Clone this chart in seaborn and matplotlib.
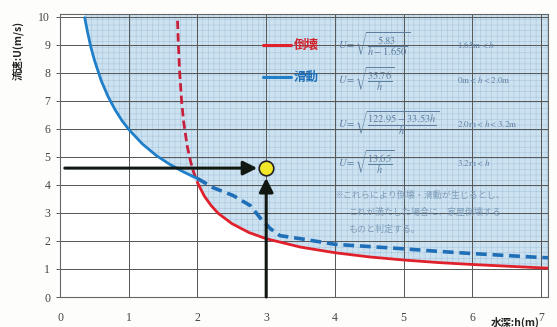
import matplotlib
matplotlib.use('Agg')
import matplotlib.pyplot as plt
import seaborn as sns
import pandas as pd

# values (water depth h [m] -> velocity U [m/s])
blue_solid_h = [0.36, 0.40, 0.45, 0.50, 0.60, 0.70, 0.80, 0.90, 1.00, 1.20, 1.40, 1.60, 1.80, 2.00]
blue_solid_u = [9.97, 9.46, 8.91, 8.46, 7.72, 7.15, 6.69, 6.30, 5.98, 5.46, 5.05, 4.73, 4.46, 4.23]

blue_dash_h = [2.00, 2.23, 2.52, 2.77, 2.91, 3.06, 3.20, 3.50, 4.00, 4.50, 5.00, 5.50, 6.00, 6.50, 7.00, 7.10]
blue_dash_u = [4.23, 3.90, 3.62, 3.26, 2.83, 2.44, 2.19, 2.08, 1.88, 1.80, 1.72, 1.63, 1.55, 1.48, 1.41, 1.40]

red_dash_h = [1.71, 1.72, 1.74, 1.77, 1.80, 1.85, 1.90, 1.95, 2.00]
red_dash_u = [9.86, 9.13, 8.05, 6.97, 6.23, 5.40, 4.83, 4.41, 4.08]

red_solid_h = [2.00, 2.10, 2.20, 2.30, 2.50, 2.75, 3.00, 3.50, 4.00, 4.50, 5.00, 5.50, 6.00, 6.50, 7.00, 7.10]
red_solid_u = [4.08, 3.60, 3.26, 2.99, 2.62, 2.30, 2.08, 1.78, 1.58, 1.43, 1.32, 1.23, 1.16, 1.10, 1.04, 1.03]

check_h = 3.0
check_u = 4.6

x_ticks = [0, 1, 2, 3, 4, 5, 6, 7]
y_ticks = [0, 1, 2, 3, 4, 5, 6, 7, 8, 9, 10]

sns.set_theme(style='white')
plt.rcParams['font.family'] = ['Liberation Serif', 'Noto Sans CJK JP', 'DejaVu Sans']
plt.rcParams['mathtext.fontset'] = 'stix'
plt.rcParams['hatch.linewidth'] = 0.4

fig = plt.figure(figsize=(5.57, 3.27), dpi=100)
fig.patch.set_facecolor('#fdfdfb')
ax = fig.add_axes([60 / 557, 30 / 327, 488 / 557, 283 / 327])
ax.set_facecolor('white')

# shaded danger zone above the lower envelope
shade = pd.DataFrame({'h': blue_solid_h[:-1] + red_solid_h,
                      'u': blue_solid_u[:-1] + red_solid_u})
ax.fill_between(shade['h'], shade['u'], 10.1, facecolor='#cde2f1',
                edgecolor='#a9c6dc', hatch='+++', linewidth=0, zorder=1)

for v in x_ticks[1:]:
    ax.axvline(v, color='#555555', lw=0.7, zorder=2)
for v in y_ticks[1:]:
    ax.axhline(v, color='#555555', lw=0.7, zorder=2)

sns.lineplot(x=red_dash_h, y=red_dash_u, ax=ax, color='#c8203a', lw=2.0,
             linestyle=(0, (3, 1.5)), zorder=4)
sns.lineplot(x=red_solid_h, y=red_solid_u, ax=ax, color='#e0202a', lw=2.0, zorder=4)
sns.lineplot(x=blue_solid_h, y=blue_solid_u, ax=ax, color='#1f7fc8', lw=2.0, zorder=5)
sns.lineplot(x=blue_dash_h, y=blue_dash_u, ax=ax, color='#1f6fb8', lw=2.6,
             linestyle=(0, (3, 1.6)), zorder=5)

# arrows pointing at the check point
ax.annotate('', xy=(check_h - 0.13, check_u), xytext=(0.07, check_u),
            arrowprops=dict(arrowstyle='-|>,head_length=0.7,head_width=0.35',
                            color='#111811', lw=2.2, shrinkA=0, shrinkB=0), zorder=6)
ax.annotate('', xy=(check_h, check_u - 0.35), xytext=(check_h, 0),
            arrowprops=dict(arrowstyle='-|>,head_length=0.7,head_width=0.35',
                            color='#111811', lw=2.2, shrinkA=0, shrinkB=0), zorder=6)
ax.scatter([check_h], [check_u], s=110, color='#f2e82a', edgecolor='#222222',
           linewidth=1.2, zorder=7)

ax.set_xlim(0, 7.1)
ax.set_ylim(0, 10.1)
ax.set_xticks(x_ticks)
ax.set_yticks(y_ticks)
ax.tick_params(axis='both', labelsize=8.5, colors='#444444', length=3, width=0.6,
               left=True, bottom=False, pad=4)
ax.tick_params(axis='x', pad=8)
for s in ax.spines.values():
    s.set_color('#666666')
    s.set_linewidth(0.8)

# legend
jp = ['Noto Sans CJK JP', 'DejaVu Sans']
fig.add_artist(plt.Line2D([263 / 557, 291 / 557], [1 - 45 / 327] * 2, color='#e0202a', lw=2.2))
fig.text(294 / 557, 1 - 45 / 327, '倒壊', color='#d0202a', fontsize=9, fontweight='bold',
         family=jp, va='center')
fig.add_artist(plt.Line2D([263 / 557, 291 / 557], [1 - 77 / 327] * 2, color='#1f7fc8', lw=2.2))
fig.text(294 / 557, 1 - 77 / 327, '滑動', color='#1f6fb8', fontsize=9, fontweight='bold',
         family=jp, va='center')

fcol = '#5f7f9f'
formulas = [
    (45, r'$U=\sqrt{\dfrac{5.83}{h-1.650}}$', r'$1.65\mathrm{m}<h$'),
    (80, r'$U=\sqrt{\dfrac{35.76}{h}}$', r'$0\mathrm{m}<h<2.0\mathrm{m}$'),
    (124, r'$U=\sqrt{\dfrac{122.95-33.53h}{h}}$', r'$2.0\mathrm{m}<h<3.2\mathrm{m}$'),
    (163, r'$U=\sqrt{\dfrac{13.65}{h}}$', r'$3.2\mathrm{m}<h$'),
]
for y, f, c in formulas:
    fig.text(338 / 557, 1 - y / 327, f, color=fcol, fontsize=7.5, va='center')
    fig.text(457 / 557, 1 - y / 327, c, color=fcol, fontsize=6.5, va='center')

note = ['※これらにより倒壊・滑動が生じるとし、',
        'これが満たした場合に、家屋倒壊する',
        'ものと判定する。']
for i, line in enumerate(note):
    fig.text((335 if i == 0 else 348) / 557, 1 - (195 + 17 * i) / 327, line,
             color='#7f9cb8', fontsize=6.5, family=jp, va='center')

fig.text(18 / 557, 1 - 50 / 327, '流速:U(m/s)', rotation=90, fontsize=7.5,
         fontweight='bold', family=jp, color='#222222', ha='center', va='center')
fig.text(515 / 557, 1 - 322 / 327, '水深:h(m)', fontsize=7.5, fontweight='bold',
         family=jp, color='#222222', ha='center', va='center')

fig.savefig('out.png', dpi=100, facecolor=fig.get_facecolor())
